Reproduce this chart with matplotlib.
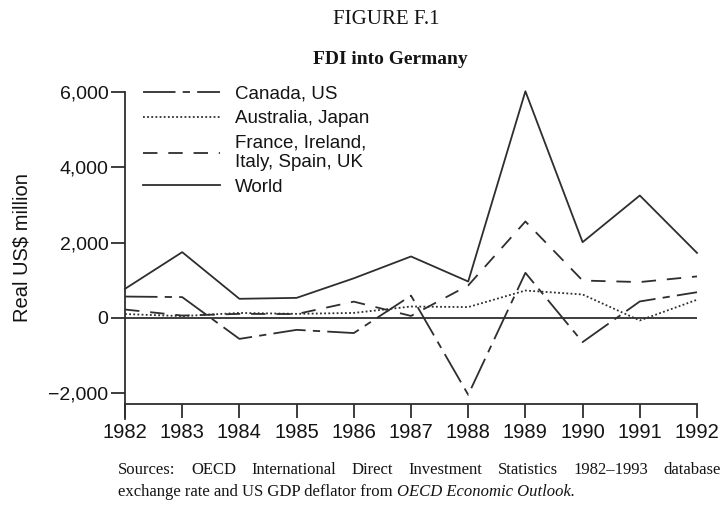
import matplotlib
matplotlib.use("Agg")
import matplotlib.pyplot as plt
import numpy as np

years = [1982, 1983, 1984, 1985, 1986, 1987, 1988, 1989, 1990, 1991, 1992]
canada_us = [565, 550, -560, -320, -405, 590, -2045, 1195, -645, 435, 680]
australia_japan = [100, 45, 130, 105, 130, 300, 285, 725, 620, -70, 480]
france_etc = [220, 60, 105, 100, 430, 50, 860, 2560, 990, 950, 1100]
world = [770, 1745, 505, 530, 1050, 1630, 965, 6020, 2010, 3250, 1725]

yticks = [-2000, 0, 2000, 4000, 6000]
ytick_labels = ["\u22122,000", "0", "2,000", "4,000", "6,000"]
labels = ["Canada, US", "Australia, Japan", "France, Ireland,\nItaly, Spain, UK", "World"]

SANS = ["Liberation Sans", "DejaVu Sans"]
SERIF = ["Liberation Serif", "DejaVu Serif"]
INK = "#2e2e2e"
TXT = "#141414"

fig = plt.figure(figsize=(7.22, 5.09), dpi=100)
W, H = 722, 509
ax = fig.add_axes([125 / W, 1 - 404 / H, (697 - 125) / W, (404 - 92) / H])
ax.set_xlim(1982, 1992)
ax.set_ylim(-2290, 6000)

lw = 1.3
ax.axhline(0, color=INK, lw=1.3, zorder=1)
l1, = ax.plot(years, canada_us, color=INK, lw=lw, dashes=(18, 4, 4, 4), clip_on=False)
l2, = ax.plot(years, australia_japan, color=INK, lw=lw, dashes=(1, 1.3), clip_on=False)
l3, = ax.plot(years, france_etc, color=INK, lw=lw, dashes=(8, 6), clip_on=False)
l4, = ax.plot(years, world, color=INK, lw=lw, clip_on=False)

for s in ["top", "right"]:
    ax.spines[s].set_visible(False)
for s in ["left", "bottom"]:
    ax.spines[s].set_color(INK)
    ax.spines[s].set_linewidth(1.3)
ax.spines["left"].set_bounds(-2290 - 400, 6000)
ax.spines["left"].set_clip_on(False)

ax.set_yticks(yticks)
ax.set_yticklabels(ytick_labels, family=SANS, fontsize=14, color=TXT)
ax.set_xticks(years)
ax.set_xticklabels([str(y) for y in years], family=SANS, fontsize=14.5, color=TXT)
ax.tick_params(axis="both", direction="out", length=10, width=1.3, color=INK)
ax.tick_params(axis="x", pad=4)
ax.tick_params(axis="y", pad=2)

ax.set_ylabel("Real US$ million", family=SANS, fontsize=14.5, color=TXT, labelpad=12)

leg = ax.legend([l1, l2, l3, l4], labels, loc="upper left", bbox_to_anchor=(0.018, 1.045),
                frameon=False, prop={"family": SANS, "size": 13.5}, handlelength=4.1,
                handletextpad=0.8, labelspacing=0.4, borderaxespad=0)
for t in leg.get_texts():
    t.set_color(TXT)
    t.set_linespacing(1.2)

fig.text(386 / W, 1 - 19 / H, "FIGURE F.1", family=SERIF, fontsize=15, ha="center", va="center", color=TXT)
fig.text(390 / W, 1 - 60 / H, "FDI into Germany", family=SERIF, fontsize=14, weight="bold",
         ha="center", va="center", color=TXT)

# Source note, first line justified
fig.canvas.draw()
r = fig.canvas.get_renderer()
words = ["Sources:", "OECD", "International", "Direct", "Investment", "Statistics", "1982\u20131993", "database"]
x0, x1 = 118, 721
y1 = H - 470
tobjs = [fig.text(0, y1 / H, w, family=SERIF, fontsize=12, va="center", ha="left", color=TXT) for w in words]
widths = [t.get_window_extent(r).width for t in tobjs]
gap = (x1 - x0 - sum(widths)) / (len(words) - 1)
x = x0
for t, w in zip(tobjs, widths):
    t.set_x(x / W)
    x += w + gap

y2 = H - 492
ta = fig.text(x0 / W, y2 / H, "exchange rate and US GDP deflator from ", family=SERIF, fontsize=12,
              va="center", ha="left", color=TXT)
wa = ta.get_window_extent(r).width
fig.text((x0 + wa) / W, y2 / H, "OECD Economic Outlook.", family=SERIF, fontsize=12, style="italic",
         va="center", ha="left", color=TXT)

fig.savefig("out.png", dpi=100)
